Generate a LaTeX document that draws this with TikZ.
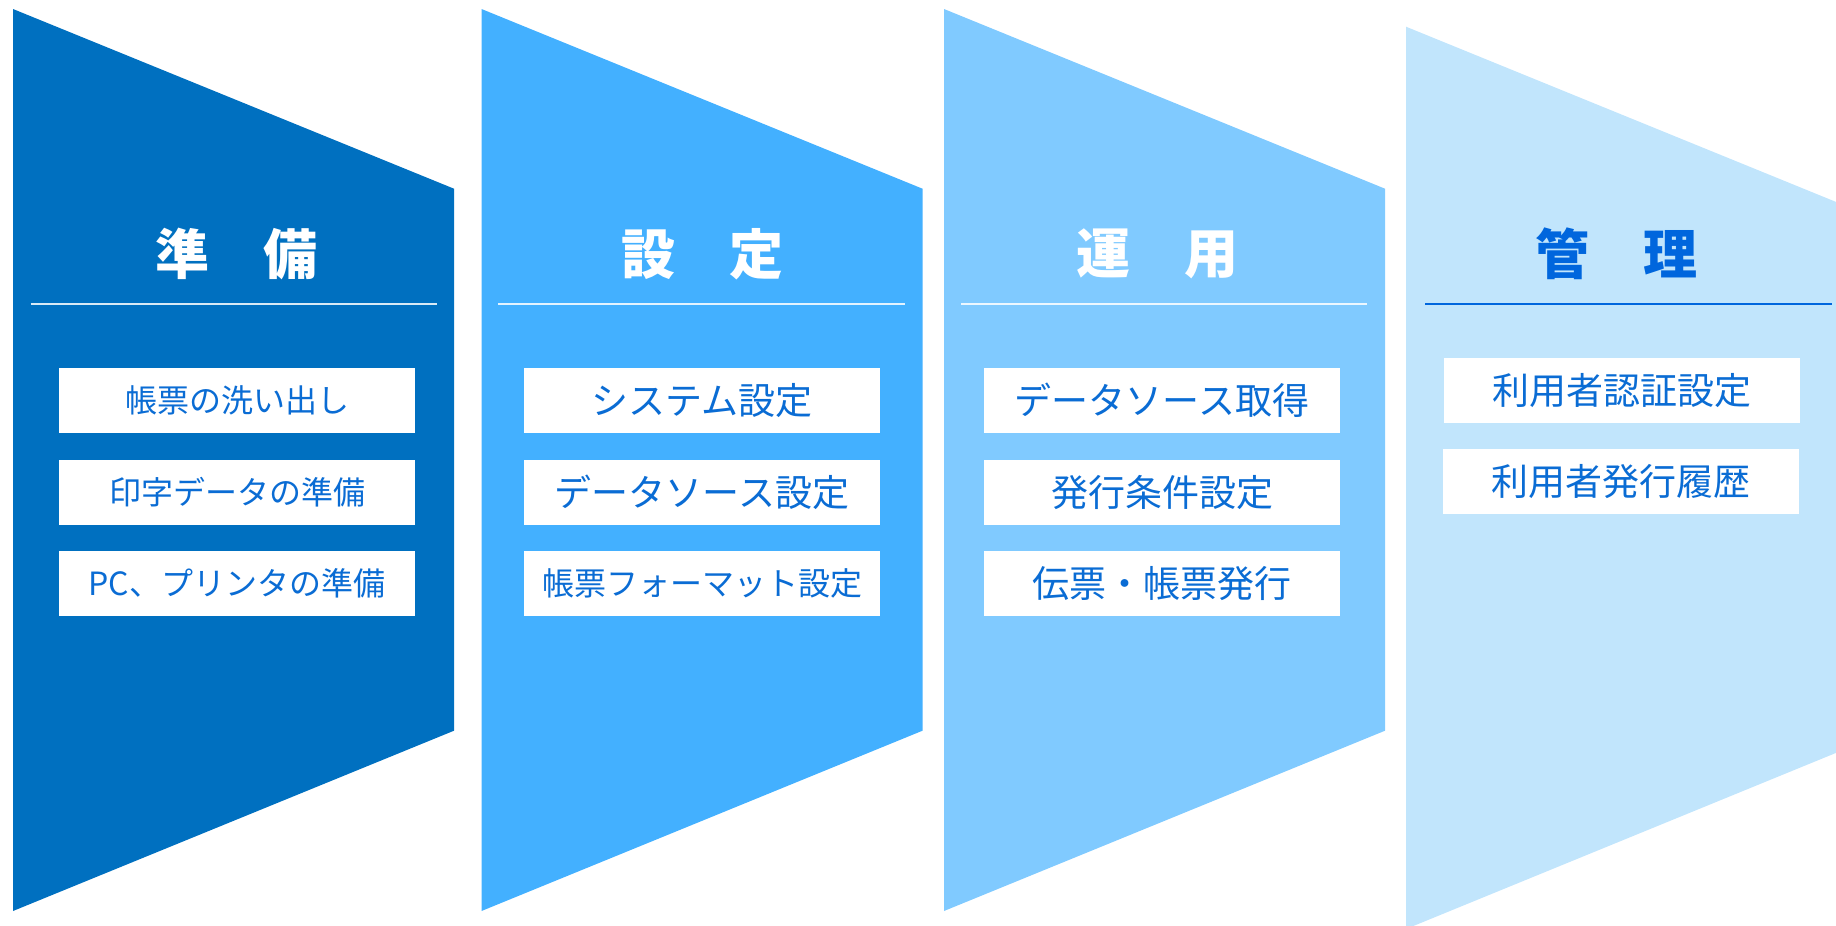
\documentclass[tikz,border=0pt]{standalone}
\usepackage{fontspec}
\setmainfont{Noto Sans CJK JP}
\definecolor{phaseA}{HTML}{0070C0}
\definecolor{phaseB}{HTML}{43B0FF}
\definecolor{phaseC}{HTML}{80CAFF}
\definecolor{phaseD}{HTML}{C1E5FC}
\definecolor{itemblue}{HTML}{0A6CD4}
\definecolor{titleblue}{HTML}{0066DD}
\begin{document}
\begin{tikzpicture}[x=0.5pt,y=-0.5pt,
  item/.style={fill=white,minimum width=178pt,minimum height=32.5pt,inner sep=0pt,text=itemblue,font=\fontsize{18.5}{18.5}\selectfont},
  itemsmall/.style={item,font=\fontsize{16}{16}\selectfont},
  phasetitle/.style={font=\fontsize{27}{27}\selectfont\bfseries,text=white},
  rule/.style={line width=0.75pt,color=white!85!phaseA}]
\useasboundingbox (0,0) rectangle (1836,926);
\clip (0,0) rectangle (1836,926);

\fill [color=phaseA](13,9)--(454,188.7)--(454,730.7)--(13,911)--cycle;
\fill [color=phaseB](481.5,9)--(922.5,188.7)--(922.5,730.7)--(481.5,911)--cycle;
\fill [color=phaseC](944,9)--(1385,188.7)--(1385,730.7)--(944,911)--cycle;
\fill [color=phaseD](1406,26.7)--(1847,206.4)--(1847,748.4)--(1406,929)--cycle;

\node [phasetitle] (prep) at (236,254) {準　備};
\node [phasetitle] (conf) at (702,254) {設　定};
\node [phasetitle] (oper) at (1157,254) {運　用};
\node [phasetitle,text=titleblue] (mgmt) at (1616,254) {管　理};

\draw [rule](30.7,304)--(436.7,304);
\draw [rule,color=white!85!phaseB](498,304)--(905,304);
\draw [rule,color=white!85!phaseC](961,304)--(1367,304);
\draw [line width=1pt,color=titleblue](1425,304)--(1832,304);

\node [itemsmall] (prep1) at (237,400.3) {帳票の洗い出し};
\node [itemsmall] (prep2) at (237,492.3) {印字データの準備};
\node [itemsmall] (prep3) at (237,583.3) {PC、プリンタの準備};

\node [item] (conf1) at (702,400.3) {システム設定};
\node [item] (conf2) at (702,492.3) {データソース設定};
\node [itemsmall] (conf3) at (702,583.3) {帳票フォーマット設定};

\node [item] (oper1) at (1162,400.3) {データソース取得};
\node [item] (oper2) at (1162,492.3) {発行条件設定};
\node [item] (oper3) at (1162,583.3) {伝票・帳票発行};

\node [item] (mgmt1) at (1622,390.3) {利用者認証設定};
\node [item] (mgmt2) at (1621,481.5) {利用者発行履歴};
\end{tikzpicture}
\end{document}
